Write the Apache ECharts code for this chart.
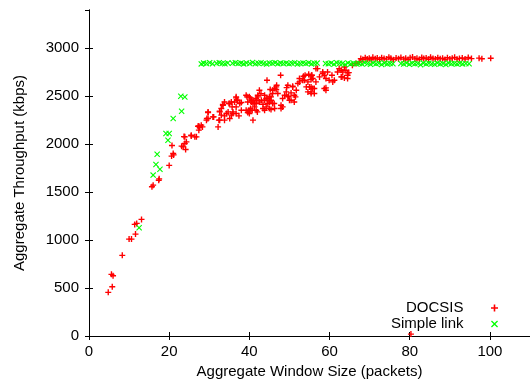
<!DOCTYPE html>
<html><head><meta charset="utf-8">
<script src="https://cdn.jsdelivr.net/npm/echarts@6/dist/echarts.min.js"></script>
<style>html,body{margin:0;padding:0;background:#fff}#c{width:530px;height:385px}</style>
</head><body><div id="c"></div>
<script>
// ---- data ----
const docsisX = [4.8,5.8,5.6,6.0,8.3,10.0,10.6,11.6,11.4,11.9,13.1,15.7,16.0,17.4,17.5,20.0,20.6,21.1,20.7,21.0,23.5,23.1,23.9,24.1,24.3,23.9,23.7,25.5,25.5,26.4,26.8,27.2,27.4,27.6,28.0,28.3,27.4,
29.3,29.4,29.7,29.7,29.7,30.9,31.1,32.2,32.4,32.6,32.6,32.6,33.0,33.0,33.4,33.4,33.8,33.8,33.8,34.3,34.7,34.9,35.1,35.1,35.5,35.5,35.7,35.9,35.9,36.3,36.7,36.7,36.7,36.7,36.9,37.1,37.4,37.6,38.0,38.0,
39.2,39.2,39.4,39.6,39.6,39.9,40.0,40.0,40.0,40.2,40.3,40.5,40.5,40.7,40.9,40.9,40.9,41.3,41.3,41.7,41.7,41.7,41.7,42.0,42.1,42.1,42.5,42.5,42.9,43.0,43.4,43.4,43.8,43.8,43.8,44.2,44.2,44.4,44.6,44.6,
45.0,45.0,45.0,45.2,45.4,45.4,45.4,45.8,45.8,45.8,46.2,46.3,46.3,46.7,46.7,46.8,47.1,47.8,47.9,47.9,48.3,48.3,48.8,49.2,49.3,49.6,49.6,49.8,50.0,50.4,50.4,50.8,50.8,51.2,51.2,51.5,51.7,52.1,52.5,52.5,
53.3,53.5,53.7,53.9,54.2,54.6,54.6,54.8,55.0,55.4,55.4,55.4,55.4,55.4,55.5,55.6,55.8,55.8,56.2,56.2,56.6,56.6,57.0,57.5,58.3,58.3,58.7,58.7,59.1,59.1,59.1,59.5,59.9,60.6,60.8,61.2,
62.0,62.4,62.9,62.9,63.1,63.3,63.7,63.7,64.1,64.5,64.5,64.5,64.8,65.7,66.6,67.4,
67.8,68.3,68.9,69.4,69.9,70.4,70.8,71.4,71.9,72.5,73.0,73.6,74.2,74.8,75.3,75.9,76.6,77.2,77.8,78.5,79.0,79.6,80.1,80.7,81.3,81.8,82.4,83.0,83.5,84.1,84.7,85.2,85.8,86.4,87.0,87.6,88.2,88.8,89.4,90.0,90.6,91.2,91.8,92.4,93.1,93.8,94.6,95.4,97.3,98.0,100.2,
80.3];
const docsisY = [455,514,643,628,841,1011,1011,1063,1164,1174,1216,1556,1573,1625,1639,1779,1876,1889,1987,1904,1973,1980,2008,1945,2025,2077,2080,2094,2087,2077,2077,2188,2147,2175,2199,2181,2191,
2251,2268,2268,2331,2337,2285,2285,2181,2251,2251,2337,2345,2303,2373,2407,2414,2251,2296,2441,2320,2337,2425,2268,2425,2303,2441,2389,2320,2337,2441,2320,2389,2483,2494,2459,2459,2296,2425,2355,2435,
2511,2355,2494,2441,2331,2355,2494,2320,2337,2483,2373,2459,2440,2355,2251,2425,2459,2389,2425,2477,2355,2425,2459,2337,2511,2494,2563,2441,2528,2459,2373,2417,2459,2511,2355,2477,2389,2667,2477,2425,
2494,2373,2441,2571,2459,2494,2362,2529,2563,2425,2425,2581,2373,2598,2571,2615,2529,2720,2407,2373,2477,2389,2511,2546,2591,2615,2494,2501,2459,2535,2459,2598,2605,2441,2511,2494,2563,2633,2650,2685,
2667,2709,2667,2720,2598,2546,2650,2730,2598,2529,2675,2702,2598,2546,2720,2720,2581,2685,2529,2581,2650,2789,2789,2702,2754,2737,2581,2720,2563,2588,2685,2754,2667,2720,2650,2667,
2754,2789,2772,2702,2702,2754,2806,2692,2772,2744,2720,2685,2747,2824,2841,2858,
2893,2884,2902,2889,2897,2880,2906,2891,2899,2885,2903,2894,2888,2907,2896,2882,2900,2892,2905,2887,2898,2883,2901,2909,2890,2896,2884,2904,2893,2899,2886,2907,2895,2889,2902,2891,2897,2884,2903,2890,2898,2906,2887,2895,2900,2889,2904,2893,2898,2891,2897,
20];
const simpleX = [12.5,16.0,16.7,17.0,17.7,19.2,19.7,20.0,21.0,23.1,22.9,23.9,
28.0,28.6,29.3,30.1,30.8,31.8,32.5,33.2,33.9,34.6,35.8,36.5,37.2,37.9,38.6,39.3,40.1,40.8,41.5,42.2,42.9,43.6,44.3,45.0,45.7,46.4,47.1,47.8,48.5,49.2,49.9,50.6,51.3,52.0,52.7,53.4,54.1,54.8,55.5,56.2,56.9,
59.0,59.7,60.4,61.1,61.8,62.5,63.2,63.9,64.6,65.3,66.0,66.7,67.4,68.1,68.8,69.5,70.2,70.9,71.6,72.3,73.0,73.7,74.4,75.1,75.8,
77.8,78.5,79.2,79.9,80.6,81.3,82.0,82.7,83.4,84.1,84.8,85.5,86.2,86.9,87.6,88.3,89.0,89.7,90.4,91.1,91.8,92.5,93.2,94.0,94.8];
const simpleY = [1128,1678,1789,1896,1740,2112,2042,2112,2268,2345,2501,2493,
2838,2846,2842,2849,2840,2845,2851,2843,2839,2847,2844,2850,2841,2846,2838,2848,2843,2852,2840,2845,2849,2842,2837,2847,2844,2851,2839,2846,2842,2848,2840,2845,2850,2836,2843,2847,2841,2849,2838,2844,2846,
2842,2839,2847,2835,2850,2844,2841,2832,2848,2838,2845,2840,2843,2836,2849,2842,2834,2847,2839,2844,2831,2846,2838,2843,2840,
2841,2836,2847,2833,2845,2839,2842,2830,2846,2837,2844,2840,2835,2848,2838,2843,2832,2846,2839,2841,2836,2845,2838,2842,2840];

const FONT = 'Liberation Sans';
const plusPath = 'path://M0,2.7L7,2.7L7,4.3L0,4.3Z M2.7,0L4.3,0L4.3,7L2.7,7Z';
const crossPath = 'path://M0,0.9L0.9,0L3.5,2.6L6.1,0L7,0.9L4.4,3.5L7,6.1L6.1,7L3.5,4.4L0.9,7L0,6.1L2.6,3.5Z';
const zip = (xs, ys) => xs.map((x, i) => [x, ys[i]]);

const chart = echarts.init(document.getElementById('c'), null, {renderer: 'canvas'});
const axisLine = {show: true, lineStyle: {color: '#000', width: 1}};
const tick = {show: true, inside: true, length: 4, lineStyle: {color: '#000'}};
chart.setOption({
  animation: false,
  backgroundColor: '#fff',
  grid: {left: 89, top: 10, width: 442, height: 326, show: false},
  legend: {
    orient: 'vertical', right: 27, top: 295, align: 'right',
    itemWidth: 52, itemHeight: 7, itemGap: 0,
    textStyle: {fontSize: 15, lineHeight: 16, color: '#000', fontFamily: FONT},
    data: ['DOCSIS', 'Simple link']
  },
  xAxis: [
    {type: 'value', min: 0, max: 110, interval: 20, position: 'bottom',
     name: 'Aggregate Window Size (packets)', nameLocation: 'middle', nameGap: 24,
     nameTextStyle: {fontSize: 15, color: '#000', fontFamily: FONT},
     axisLine, axisTick: tick, splitLine: {show: false},
     axisLabel: {fontSize: 15, color: '#000', fontFamily: FONT, margin: 8, showMaxLabel: false,
                 formatter: v => String(v)}},
    {type: 'value', min: 0, max: 110, interval: 20, position: 'top',
     axisLine, axisTick: tick, splitLine: {show: false}, axisLabel: {show: false}}
  ],
  yAxis: [
    {type: 'value', min: 0, max: 3400, interval: 500, position: 'left',
     name: 'Aggregate Throughput (kbps)', nameLocation: 'middle', nameGap: 62,
     nameTextStyle: {fontSize: 15, color: '#000', fontFamily: FONT},
     axisLine, axisTick: tick, splitLine: {show: false},
     axisLabel: {fontSize: 15, color: '#000', fontFamily: FONT, margin: 10, showMaxLabel: false,
                 formatter: v => String(v)}},
    {type: 'value', min: 0, max: 3400, interval: 500, position: 'right',
     axisLine, axisTick: tick, splitLine: {show: false}, axisLabel: {show: false}}
  ],
  series: [
    {name: 'DOCSIS', type: 'scatter', symbol: plusPath, symbolSize: 6,
     itemStyle: {color: '#ff0000', opacity: 1},
     data: zip(docsisX, docsisY)},
    {name: 'Simple link', type: 'scatter', symbol: crossPath, symbolSize: 6,
     itemStyle: {color: '#00ff00', opacity: 1},
     data: zip(simpleX, simpleY)}
  ]
});
</script></body></html>
